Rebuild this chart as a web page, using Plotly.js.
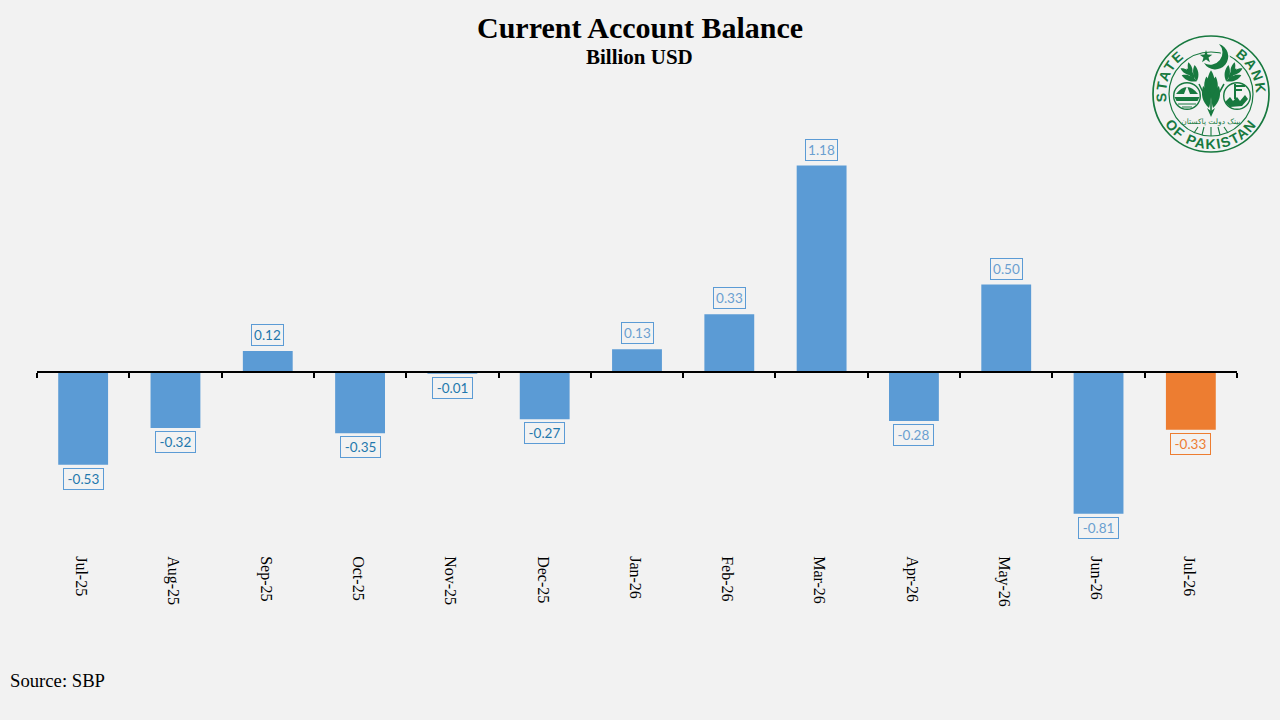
<!DOCTYPE html>
<html>
<head>
<meta charset="utf-8">
<script src="https://cdn.plot.ly/plotly-3.0.1.min.js"></script>
<style>
html,body{margin:0;padding:0;background:#f2f2f2;width:1280px;height:720px;overflow:hidden}
#chart{position:absolute;left:0;top:0;width:1280px;height:720px}
#logo{position:absolute;left:1151px;top:34px;width:120px;height:120px;overflow:visible}
</style>
</head>
<body>
<div id="chart"></div>
<svg id="logo" viewBox="0 0 120 120" xmlns="http://www.w3.org/2000/svg">
  <defs>
    <path id="arcS" d="M 15.7 67.8 A 45 45 0 0 1 60 15"/>
    <path id="arcB" d="M 83.8 21.8 A 45 45 0 0 1 104.3 67.8"/>
    <path id="arcP" d="M 8.3 78.8 A 55 55 0 0 0 111.7 78.8"/>
    <path id="leaf" d="M0 0 C-4 -6 -4 -13 0 -19 C4 -13 4 -6 0 0Z"/>
    <g id="stalk">
      <use href="#leaf" transform="translate(0,-6) scale(.6)"/>
      <use href="#leaf" transform="translate(0,-3) rotate(-30) scale(.75)"/>
      <use href="#leaf" transform="translate(0,-3) rotate(30) scale(.75)"/>
      <use href="#leaf" transform="translate(0,-10) rotate(-22) scale(.6)"/>
      <use href="#leaf" transform="translate(0,-10) rotate(22) scale(.6)"/>
    </g>
  </defs>
  <g fill="#17793f" stroke="none">
    <circle cx="60" cy="60" r="58" fill="none" stroke="#17793f" stroke-width="1.7"/>
    <circle cx="60" cy="60" r="42" fill="none" stroke="#17793f" stroke-width="1.2"/>
    <g font-family="Liberation Sans" font-weight="700" font-size="14">
      <text letter-spacing="1.4"><textPath href="#arcS">STATE</textPath></text>
      <text letter-spacing="1.4"><textPath href="#arcB">BANK</textPath></text>
      <text letter-spacing="1.5"><textPath href="#arcP" startOffset="50%" text-anchor="middle">OF PAKISTAN</textPath></text>
    </g>
    <path d="M68 10 A13 13 0 1 1 53 29 A12.2 12.2 0 0 0 68 10Z" fill="#f2f2f2" stroke="#f2f2f2" stroke-width="3"/>
    <path d="M68 10 A13 13 0 1 1 53 29 A12.2 12.2 0 0 0 68 10Z"/>
    <polygon points="55,16 56.5,20.6 61.3,20.7 57.5,23.6 58.9,28.2 55,25.4 51.1,28.2 52.5,23.6 48.7,20.7 53.5,20.6"/>
    <!-- central sheaf -->
    <use href="#leaf" transform="translate(60,60) scale(1.2,1.25)"/>
    <use href="#leaf" transform="translate(59,66) rotate(-9) scale(1.25,1.25)"/>
    <use href="#leaf" transform="translate(61,66) rotate(9) scale(1.25,1.25)"/>
    <use href="#leaf" transform="translate(58,74) rotate(-15) scale(1.2,1.2)"/>
    <use href="#leaf" transform="translate(62,74) rotate(15) scale(1.2,1.2)"/>
    <rect x="59.2" y="60" width="1.6" height="20"/>
    <polygon points="56,74 60,83 64,74 60,77"/>
    <!-- side stalks -->
    <use href="#stalk" transform="translate(48,50) rotate(-38) scale(1.15)"/>
    <use href="#stalk" transform="translate(73,50) rotate(38) scale(1.15)"/>
    <path d="M48 50 Q53 60 57 70 M73 50 Q67 60 63 70" fill="none" stroke="#17793f" stroke-width="1.5"/>
    <!-- left emblem -->
    <circle cx="36" cy="62" r="13.3" fill="none" stroke="#17793f" stroke-width="1.4"/>
    <path d="M25 60 Q36 46 47 60Z"/>
    <path d="M33 60 L36 52 L39 60Z" fill="#f2f2f2"/>
    <path d="M23.5 63 H48.5 L46.5 67 H25.5Z"/>
    <path d="M27 70 H45 M31 73 H41" stroke="#17793f" stroke-width="1.2"/>
    <!-- right emblem -->
    <circle cx="86" cy="62" r="13.3" fill="none" stroke="#17793f" stroke-width="1.4"/>
    <path d="M84 50 V65 M84 52 H94 M84 56 H91" stroke="#17793f" stroke-width="2" fill="none"/>
    <path d="M74 68 L79 63 L82 67 L86 63 L89 67 L94 61 L97 65 L91 72 L79 73Z"/>
    <text x="60" y="90" font-family="DejaVu Sans" font-size="7.5" text-anchor="middle" direction="rtl">بینک دولت پاکستان</text>
    <path d="M47 93 L43 99 M53 93 L51 101 M60 93 V102 M67 93 L69 101 M73 93 L77 99" stroke="#17793f" stroke-width="1.1"/>
  </g>
</svg>
<script>
const months = ['Jul-25','Aug-25','Sep-25','Oct-25','Nov-25','Dec-25','Jan-26','Feb-26','Mar-26','Apr-26','May-26','Jun-26','Jul-26'];
const balance = [-0.53,-0.32,0.12,-0.35,-0.01,-0.27,0.13,0.33,1.18,-0.28,0.50,-0.81,-0.33];

const BLUE='#5b9bd5', ORANGE='#ed7d31', DARKTEXT='#1f78ad', LIGHTTEXT='#6a9fd0';
const last = months.length-1;
const barColors = months.map((m,i)=> i===last ? ORANGE : BLUE);
const textColor = i => i===last ? ORANGE : (i<6 ? DARKTEXT : LIGHTTEXT);
const SERIF='"Liberation Serif", serif';

const annotations = months.map((m,i)=>({
  x:m, y:balance[i], xref:'x', yref:'y', showarrow:false,
  text:balance[i].toFixed(2),
  font:{family:'Lato, sans-serif',size:13.5,color:textColor(i)},
  bordercolor:i===last?ORANGE:BLUE, borderwidth:1, borderpad:2, bgcolor:'rgba(0,0,0,0)',
  align:'center', width:balance[i]>=0?27:35,
  yanchor:balance[i]>=0?'bottom':'top',
  yshift:balance[i]>=0?5:-3
}));

const text = (t,px,py,size,bold,anchor)=>({
  text:bold?'<b>'+t+'</b>':t, xref:'paper', yref:'paper', showarrow:false,
  x:(px-37)/1200, y:(620-py)/520, xanchor:anchor, yanchor:'middle',
  font:{family:SERIF,size:size,color:'#000'}
});
annotations.push(text('Current Account Balance',640,27,30,true,'center'));
annotations.push(text('Billion USD',640,57,21,true,'center'));
annotations.push(text('Source: SBP',7.5,680,18.7,false,'left'));

Plotly.newPlot('chart',[{
  type:'bar', x:months, y:balance,
  marker:{color:barColors,line:{width:0}},
  hoverinfo:'x+y'
}],{
  width:1280,height:720,
  paper_bgcolor:'#f2f2f2',plot_bgcolor:'#f2f2f2',
  margin:{l:37,r:43,t:100,b:100,pad:0},
  bargap:0.46,
  showlegend:false,
  xaxis:{
    type:'category',categoryorder:'array',categoryarray:months,range:[-0.5,12.5],
    anchor:'free',position:(620-372)/520,
    showline:true,linecolor:'#000',linewidth:2,
    showgrid:false,zeroline:false,
    ticks:'outside',ticklen:5,tickwidth:2,tickcolor:'#000',tickson:'boundaries',
    tickangle:90,ticklabelstandoff:180,ticklabelshift:-2,
    tickfont:{family:SERIF,size:16,color:'#000'},
    fixedrange:true,automargin:false
  },
  yaxis:{
    range:[-248/175,272/175],visible:false,showgrid:false,zeroline:false,fixedrange:true
  },
  annotations:annotations
},{displayModeBar:false,staticPlot:true});
</script>
</body>
</html>
